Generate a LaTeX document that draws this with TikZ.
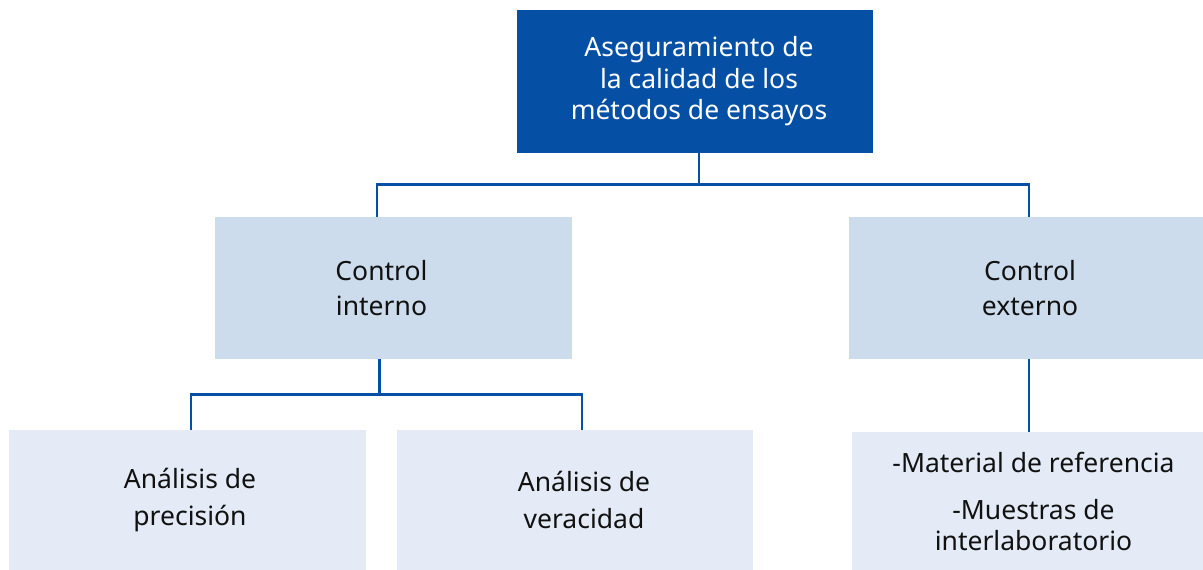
\documentclass[tikz,border=0pt]{standalone}
\usepackage{fontspec}
\setmainfont{Noto Sans}
\definecolor{darkblue}{HTML}{0550A4}
\definecolor{midblue}{HTML}{CDDCEC}
\definecolor{paleblue}{HTML}{E4EBF6}
\definecolor{txt}{HTML}{111111}
\tikzset{
  box/.style={rectangle, inner sep=0pt, align=center, font=\fontsize{26.5}{35}\selectfont, text=txt},
  topbox/.style={box, fill=darkblue, text=white, font=\fontsize{26.5}{31.5}\selectfont},
  lvl1/.style={box, fill=midblue},
  lvl2/.style={box, fill=paleblue, font=\fontsize{26.5}{37}\selectfont},
  conn/.style={draw=darkblue, line width=2.8pt}
}
\begin{document}
\begin{tikzpicture}[x=1pt,y=-1pt]
\useasboundingbox (0,0) rectangle (1203,570);
\node[topbox, minimum width=356pt, minimum height=143pt] (top) at (695,81.5)
  {\raisebox{8pt}{\parbox{320pt}{\centering\hspace*{8pt}Aseguramiento de\\\hspace*{8pt}la calidad de los\\\hspace*{8pt}métodos de ensayos}}};
\node[lvl1, minimum width=357pt, minimum height=142pt] (ci) at (393.5,288)
  {\raisebox{4pt}{\parbox{300pt}{\centering\hspace*{-24pt}Control\\\hspace*{-24pt}interno}}};
\node[lvl1, minimum width=354pt, minimum height=142pt] (ce) at (1026,288)
  {\raisebox{4pt}{\parbox{300pt}{\centering\hspace*{8pt}Control\\\hspace*{8pt}externo}}};
\node[lvl2, minimum width=357pt, minimum height=140pt] (ap) at (187.5,500)
  {\hspace*{5pt}Análisis de\\\hspace*{5pt}precisión};
\node[lvl2, minimum width=356pt, minimum height=140pt] (av) at (575,500)
  {\hspace*{18pt}Análisis de\\\hspace*{18pt}veracidad};
\node[lvl2, minimum width=351pt, minimum height=139pt, font=\fontsize{26.5}{31}\selectfont] (mr) at (1027.5,501.5)
  {\hspace*{12pt}-Material de referencia\\[16pt]\hspace*{12pt}-Muestras de\\\hspace*{12pt}interlaboratorio};
\draw[conn] ([xshift=4pt]top.south) -- ++(0,31) coordinate (j1);
\draw[conn] ([xshift=-16.5pt]ci.north) |- (j1) -| ([xshift=3pt]ce.north);
\draw[conn] ([xshift=-14pt]ci.south) -- ++(0,35) coordinate (j2);
\draw[conn] ([xshift=3.5pt]ap.north) |- (j2) -| ([xshift=7pt]av.north);
\draw[conn] ([xshift=3pt]ce.south) -- ([xshift=3pt]ce.south |- mr.north);
\end{tikzpicture}
\end{document}
